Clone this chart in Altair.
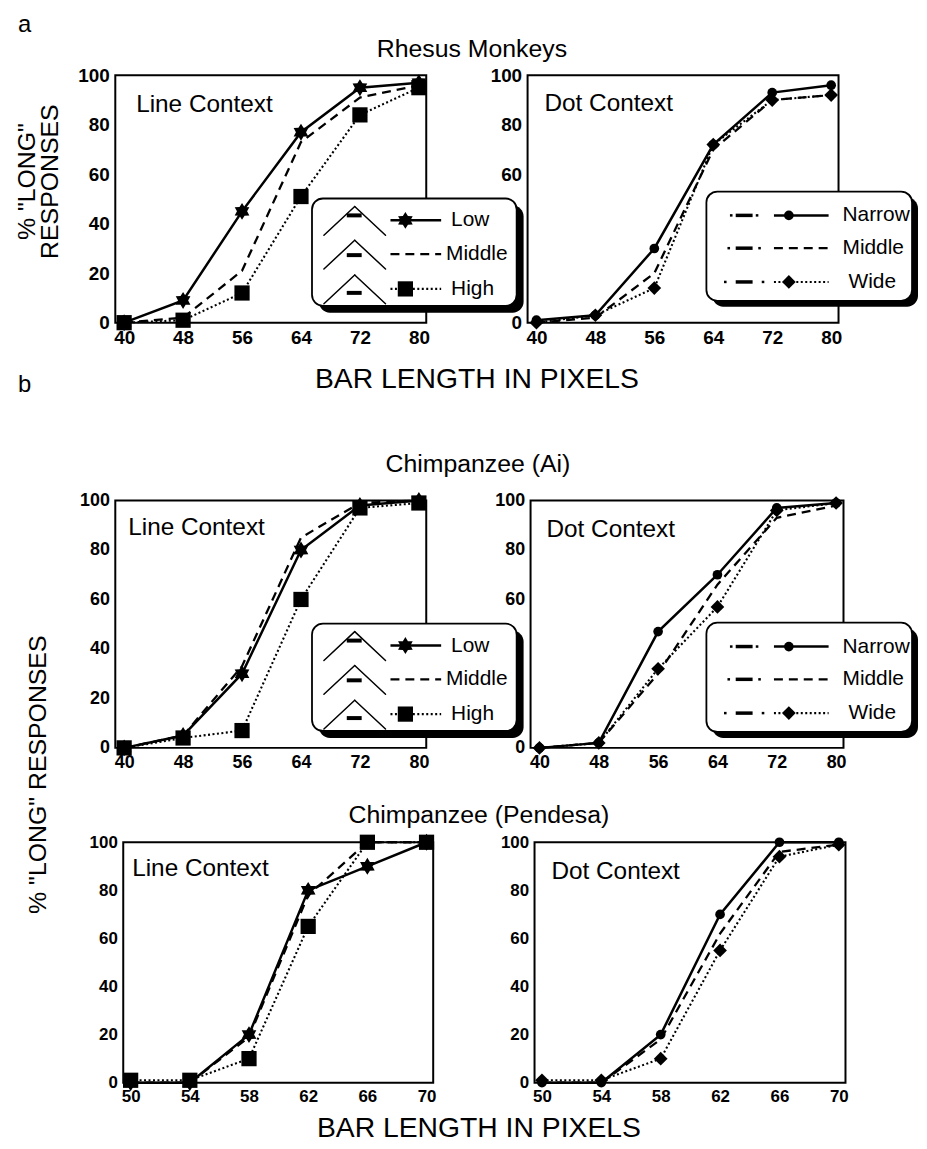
import math
import altair as alt
import pandas as pd

FONT = "Liberation Sans"

# ---------------- data ----------------
x_rhesus = [40, 48, 56, 64, 72, 80]
x_ai = [40, 48, 56, 64, 72, 80]
x_pendesa = [50, 54, 58, 62, 66, 70]
y_ticks = [0, 20, 40, 60, 80, 100]
y_ticks_covered = [0, 60, 80, 100]

line_names = ["Low", "Middle", "High"]
dot_names = ["Narrow", "Middle", "Wide"]

rh_line_low = [0, 9, 45, 77, 95, 97]
rh_line_mid = [0, 2, 21, 73, 91, 96]
rh_line_high = [0, 1, 12, 51, 84, 95]
rh_dot_narrow = [1, 3, 30, 72, 93, 96]
rh_dot_mid = [0, 2, 20, 70, 90, 92]
rh_dot_wide = [0, 3, 14, 72, 90, 92]

ai_line_low = [0, 5, 30, 80, 98, 100]
ai_line_mid = [0, 5, 33, 85, 99, 100]
ai_line_high = [0, 4, 7, 60, 97, 99]
ai_dot_narrow = [0, 2, 47, 70, 97, 99]
ai_dot_mid = [0, 2, 30, 66, 93, 98]
ai_dot_wide = [0, 2, 32, 57, 96, 99]

pe_line_low = [0, 0, 20, 80, 90, 100]
pe_line_mid = [0, 0, 19, 78, 100, 100]
pe_line_high = [1, 1, 10, 65, 100, 100]
pe_dot_narrow = [0, 0, 20, 70, 100, 100]
pe_dot_mid = [0, 0, 18, 62, 96, 99]
pe_dot_wide = [1, 1, 10, 55, 94, 99]


# ---------------- styling helpers ----------------
def star_path(n=6, r_in=0.6):
    pts = []
    for k in range(2 * n):
        r = 1.0 if k % 2 == 0 else r_in
        a = -math.pi / 2 + k * math.pi / n
        pts.append(f"{r * math.cos(a):.3f},{r * math.sin(a):.3f}")
    return "M" + " L".join(pts) + " Z"


STAR = star_path()
STYLE = {
    "Low": {"dash": None, "width": 2.5, "shape": STAR, "size": 290},
    "Middle": {"dash": [9, 6], "width": 2.3, "shape": None, "size": 0},
    "High": {"dash": [2, 2.5], "width": 2.1, "shape": "square", "size": 235},
    "Narrow": {"dash": None, "width": 2.5, "shape": "circle", "size": 95},
    "Wide": {"dash": [2, 2.5], "width": 2.1, "shape": "diamond", "size": 190},
}


def one_row():
    return pd.DataFrame({"k": [0]})


def text(txt, x, y, size, align="left", baseline="alphabetic", angle=0):
    return alt.Chart(one_row()).mark_text(
        text=txt, font=FONT, fontSize=size, align=align, baseline=baseline,
        angle=angle, color="black"
    ).encode(x=alt.value(x), y=alt.value(y))


def seg(x1, y1, x2, y2, width=1.5, dash=None, cap="butt"):
    kw = dict(color="black", strokeWidth=width, strokeCap=cap)
    if dash:
        kw["strokeDash"] = dash
    return alt.Chart(one_row()).mark_rule(**kw).encode(
        x=alt.value(x1), y=alt.value(y1), x2=alt.value(x2), y2=alt.value(y2))


def sym(x, y, shape, size):
    return alt.Chart(one_row()).mark_point(
        shape=shape, size=size, filled=True, color="black", opacity=1
    ).encode(x=alt.value(x), y=alt.value(y))


def rect(x1, y1, x2, y2, fill, stroke=None, r=11):
    kw = dict(fill=fill, cornerRadius=r)
    if stroke:
        kw["stroke"] = stroke
        kw["strokeWidth"] = 1.8
    return alt.Chart(one_row()).mark_rect(**kw).encode(
        x=alt.value(x1), x2=alt.value(x2), y=alt.value(y1), y2=alt.value(y2))


def line_legend(ox, oy):
    W, H, SH = 206, 108, 7
    L = [rect(ox + SH, oy + SH, ox + W + SH, oy + H + SH, fill="black"),
         rect(ox, oy, ox + W, oy + H, fill="white", stroke="black")]
    rows = [22, 56, 91]
    bar_off = [9, 15, 18]
    for name, ry, bo in zip(line_names, rows, bar_off):
        cy = oy + ry
        apx, apy = ox + 43, cy - 14
        L.append(seg(apx, apy, ox + 12, cy + 15, 1.5, cap="round"))
        L.append(seg(apx, apy, ox + 74, cy + 15, 1.5, cap="round"))
        L.append(seg(ox + 35, apy + bo, ox + 50, apy + bo, 4))
        st = STYLE[name]
        L.append(seg(ox + 79, cy, ox + 130, cy, st["width"], st["dash"]))
        if st["shape"]:
            L.append(sym(ox + 94, cy, st["shape"], st["size"]))
        L.append(text(name, ox + (135 if name == "Middle" else 140), cy, 21,
                      baseline="middle"))
    return L


def dot_legend(ox, oy):
    W, H, SH = 207, 110, 6
    L = [rect(ox + SH, oy + SH, ox + W + SH, oy + H + SH, fill="black"),
         rect(ox, oy, ox + W, oy + H, fill="white", stroke="black")]
    rows = [24, 57, 91]
    tick_d = [13, 15.5, 19]
    for name, ry, td in zip(dot_names, rows, tick_d):
        cy = oy + ry
        c = ox + 38
        L.append(seg(c - 8.5, cy, c + 8.5, cy, 3.5))
        L.append(seg(c - td - 1.3, cy, c - td + 1.3, cy, 2.5))
        L.append(seg(c + td - 1.3, cy, c + td + 1.3, cy, 2.5))
        st = STYLE[name]
        L.append(seg(ox + 68, cy, ox + 123, cy, st["width"], st["dash"]))
        if st["shape"]:
            L.append(sym(ox + 83, cy, st["shape"], st["size"]))
        L.append(text(name, ox + (143 if name == "Wide" else 137), cy, 21,
                      baseline="middle"))
    return L


def axis_x(vals, fs):
    return alt.Axis(values=vals, title=None, grid=False, domain=False, ticks=False,
                    labelFont=FONT, labelFontSize=fs, labelFontWeight="bold",
                    labelColor="black", labelPadding=6, labelFlush=False,
                    labelOverlap=False)


def axis_y(vals, fs):
    return alt.Axis(values=vals, title=None, grid=False, domain=False, ticks=False,
                    labelFont=FONT, labelFontSize=fs, labelFontWeight="bold",
                    labelColor="black", labelPadding=6, labelFlush=False,
                    labelOverlap=False)


def panel(xs, names, values, xdom, w, h, ctx, ctx_pos, yvals, fs, extra):
    ax = axis_x(xs, fs)
    ay = axis_y(yvals, fs)
    lines, pts = [], []
    for name, ys in zip(names, values):
        df = pd.DataFrame({"x": xs, "y": ys})
        st = STYLE[name]
        enc = dict(
            x=alt.X("x:Q", scale=alt.Scale(domain=xdom, nice=False, zero=False), axis=ax),
            y=alt.Y("y:Q", scale=alt.Scale(domain=[0, 100], nice=False), axis=ay),
        )
        kw = dict(color="black", strokeWidth=st["width"])
        if st["dash"]:
            kw["strokeDash"] = st["dash"]
        lines.append(alt.Chart(df).mark_line(**kw).encode(**enc))
        if st["shape"]:
            pts.append(alt.Chart(df).mark_point(
                shape=st["shape"], size=st["size"], filled=True, color="black",
                opacity=1).encode(**enc))
    layers = lines + pts + [text(ctx, ctx_pos[0], ctx_pos[1], 24.5)] + extra
    return alt.layer(*layers).properties(
        width=w, height=h,
        view=alt.ViewBackground(stroke="black", strokeWidth=2))


XD_LONG = [38.8, 81.0]
XD_PEND = [49.5, 70.45]

# ---------------- row a ----------------
A1 = panel(x_rhesus, line_names, [rh_line_low, rh_line_mid, rh_line_high], XD_LONG,
           313, 249, "Line Context", (21, 37), y_ticks, 19,
           line_legend(198, 124) + [
               text("a", -98, -44, 24),
               text("Rhesus Monkeys", 359, -18, 25, align="center"),
               text('% "LONG"', -89, 107, 25, align="center", baseline="middle", angle=270),
               text("RESPONSES", -66, 107, 25, align="center", baseline="middle", angle=270),
               text("BAR LENGTH IN PIXELS", 364, 315, 28.5, align="center"),
           ])
A2 = panel(x_rhesus, dot_names, [rh_dot_narrow, rh_dot_mid, rh_dot_wide], XD_LONG,
           313, 249, "Dot Context", (17, 36), y_ticks_covered, 19,
           dot_legend(180, 117))
rowA = alt.hconcat(A1, A2, spacing=102, bounds="flush")

# ---------------- row b (Ai) ----------------
B1L = panel(x_ai, line_names, [ai_line_low, ai_line_mid, ai_line_high], XD_LONG,
            313, 249, "Line Context", (13, 35), y_ticks, 18,
            line_legend(198, 124) + [
                text("b", -98, -109, 24),
                text("Chimpanzee (Ai)", 365, -29, 25, align="center"),
            ])
B1R = panel(x_ai, dot_names, [ai_dot_narrow, ai_dot_mid, ai_dot_wide], XD_LONG,
            315, 249, "Dot Context", (16, 37), y_ticks_covered, 18,
            dot_legend(177, 123))
rowB1 = alt.hconcat(B1L, B1R, spacing=105, bounds="flush")

# ---------------- row b (Pendesa) ----------------
B2L = panel(x_pendesa, line_names, [pe_line_low, pe_line_mid, pe_line_high], XD_PEND,
            312, 242, "Line Context", (9, 34), y_ticks, 17,
            [
                text("Chimpanzee (Pendesa)", 358, -19, 25, align="center"),
                text('% "LONG" RESPONSES', -86, -68, 25, align="center",
                     baseline="middle", angle=270),
                text("BAR LENGTH IN PIXELS", 358, 297, 28.5, align="center"),
            ])
B2R = panel(x_pendesa, dot_names, [pe_dot_narrow, pe_dot_mid, pe_dot_wide], XD_PEND,
            313, 242, "Dot Context", (17, 37), y_ticks, 17, [])
spacer = alt.Chart(one_row()).mark_point(opacity=0).encode(
    x=alt.value(0), y=alt.value(0)).properties(width=1, height=242)
rowB2 = alt.hconcat(spacer, alt.hconcat(B2L, B2R, spacing=102, bounds="flush"),
                    spacing=7, bounds="flush")

chart = alt.vconcat(
    rowA,
    alt.vconcat(rowB1, rowB2, spacing=344, bounds="flush"),
    spacing=428, bounds="flush",
).properties(
    padding={"left": 6, "top": 0, "right": 0, "bottom": 0},
    background="white",
).configure_view(stroke=None)

chart.save("out.html", embed_options={"renderer": "svg", "actions": False})
